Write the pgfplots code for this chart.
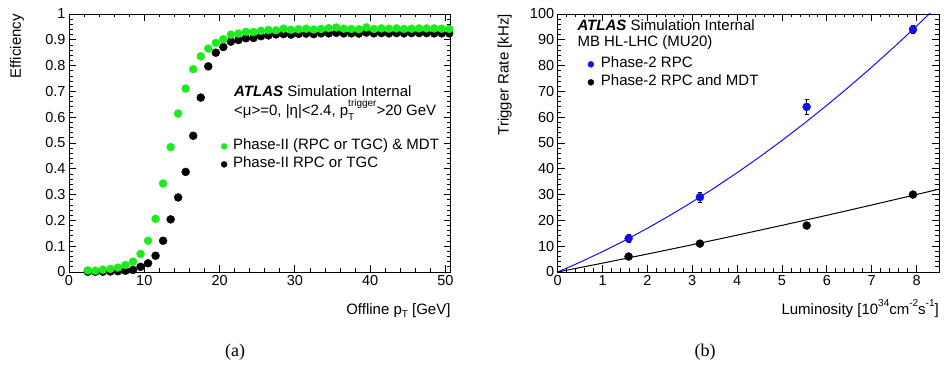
\documentclass[border=0pt]{standalone}
\usepackage{fontspec}
\setmainfont{Liberation Sans}
\newfontfamily\capfont{Liberation Serif}
\usepackage{pgfplots}
\pgfplotsset{compat=1.18}
\usepackage{pgfplotstable}

\definecolor{rootgreen}{RGB}{30,235,30}
\definecolor{rootblue}{RGB}{15,15,240}

\pgfplotstableread{
x y
2.5 0.006
3.5 0.005
4.5 0.009
5.5 0.012
6.5 0.017
7.5 0.027
8.5 0.040
9.5 0.070
10.5 0.121
11.5 0.206
12.5 0.343
13.5 0.484
14.5 0.614
15.5 0.711
16.5 0.786
17.5 0.836
18.5 0.866
19.5 0.888
20.5 0.902
21.5 0.920
22.5 0.924
23.5 0.931
24.5 0.930
25.5 0.935
26.5 0.938
27.5 0.937
28.5 0.943
29.5 0.939
30.5 0.941
31.5 0.943
32.5 0.940
33.5 0.942
34.5 0.945
35.5 0.948
36.5 0.943
37.5 0.942
38.5 0.941
39.5 0.948
40.5 0.942
41.5 0.944
42.5 0.943
43.5 0.944
44.5 0.942
45.5 0.943
46.5 0.944
47.5 0.944
48.5 0.944
49.5 0.943
50.5 0.942
}\greendata

\pgfplotstableread{
x y
2.5 0.001
3.5 0.001
4.5 0.001
5.5 0.002
6.5 0.003
7.5 0.005
8.5 0.008
9.5 0.020
10.5 0.034
11.5 0.063
12.5 0.121
13.5 0.204
14.5 0.289
15.5 0.388
16.5 0.528
17.5 0.676
18.5 0.797
19.5 0.850
20.5 0.872
21.5 0.893
22.5 0.899
23.5 0.906
24.5 0.907
25.5 0.914
26.5 0.917
27.5 0.921
28.5 0.922
29.5 0.920
30.5 0.923
31.5 0.924
32.5 0.922
33.5 0.925
34.5 0.925
35.5 0.927
36.5 0.925
37.5 0.925
38.5 0.924
39.5 0.928
40.5 0.925
41.5 0.926
42.5 0.925
43.5 0.926
44.5 0.925
45.5 0.926
46.5 0.926
47.5 0.926
48.5 0.925
49.5 0.925
50.5 0.925
}\blackdata

\pgfplotstableread{
x y ey
1.58 13.0 1.5
3.17 29.0 2.0
5.55 64.0 3.0
7.92 94.0 1.5
}\rpcdata

\pgfplotstableread{
x y ey
1.58 6.0 0.6
3.17 11.0 0.8
5.55 18.0 1.2
7.92 30.0 0.8
}\mdtdata

\pgfplotstableread{
x y
0 0
0.5 3.81
1 7.90
1.5 12.28
2 16.95
2.5 21.91
3 27.15
3.5 32.67
4 38.49
4.5 44.59
5 50.98
5.5 57.65
6 64.61
6.5 71.85
7 79.39
7.5 87.21
8 95.31
8.5 103.70
}\rpcfit

\pgfplotstableread{
x y
0 0
1 3.43
2 6.96
3 10.57
4 14.28
5 18.08
6 21.97
7 25.96
8 30.03
8.5 32.10
}\mdtfit

\pgfplotsset{rootstyle/.style={
  scale only axis, height=258bp,
  axis line style={line width=0.8bp, black},
  tick align=inside, tick pos=both,
  major tick length=7bp, minor tick length=3.5bp,
  every tick/.style={black, line width=0.8bp},
  minor tick num=4,
  tick label style={font=\fontsize{14.5bp}{17bp}\selectfont},
  label style={font=\fontsize{15bp}{18bp}\selectfont},
  /pgf/number format/assume math mode=true,
  legend style={draw=none, fill=none, font=\fontsize{15bp}{18bp}\selectfont,
    row sep=1bp, column sep=5bp, inner sep=0pt,
    nodes={inner sep=1bp, text height=11bp, text depth=4bp}},
  legend cell align=left,
}}

\begin{document}
\begin{tikzpicture}
\path[use as bounding box] (0,0) rectangle (944bp,365bp);

% ---------- (a) ----------
\begin{axis}[rootstyle,
  at={(69bp,93bp)}, anchor=south west, width=381.7bp,
  xmin=0, xmax=50.7, ymin=0, ymax=1,
  xtick={0,10,20,30,40,50},
  ytick={0,0.1,0.2,0.3,0.4,0.5,0.6,0.7,0.8,0.9,1},
  yticklabels={0,0.1,0.2,0.3,0.4,0.5,0.6,0.7,0.8,0.9,1},
  xlabel={Offline p\raisebox{-0.5ex}{\fontsize{10bp}{10bp}\selectfont T} [GeV]},
  ylabel={Efficiency},
  xlabel style={at={(axis description cs:1,-0.1628)}, anchor=base east, inner sep=0pt},
  ylabel style={at={(axis description cs:-0.1258,1)}, anchor=base east, inner sep=0pt},
  legend style={at={(0.398,0.452)}, anchor=west},
  reverse legend,
  legend image code/.code={\draw[#1, mark size=3bp] plot coordinates {(0bp,0bp)};},
]
\addplot[only marks, mark=*, mark size=4bp, color=black,
  error bars/.cd, x dir=both, x fixed=0.5, error mark=none,
  error bar style={black, line width=0.8bp}]
  table[x=x, y=y] {\blackdata};
\addlegendentry{Phase-II RPC or TGC}
\addplot[only marks, mark=*, mark size=4bp, color=rootgreen,
  error bars/.cd, x dir=both, x fixed=0.5, error mark=none,
  error bar style={black, line width=0.8bp}]
  table[x=x, y=y] {\greendata};
\addlegendentry{Phase-II (RPC or TGC) \& MDT}
\end{axis}

% ---------- (b) ----------
\begin{axis}[rootstyle,
  at={(557.7bp,93bp)}, anchor=south west, width=381.3bp,
  xmin=0, xmax=8.5, ymin=0, ymax=100,
  xtick={0,1,2,3,4,5,6,7,8},
  ytick={0,10,20,30,40,50,60,70,80,90,100},
  xlabel={Luminosity [10\raisebox{1.0ex}{\fontsize{10bp}{10bp}\selectfont 34}cm\raisebox{1.0ex}{\fontsize{10bp}{10bp}\selectfont -2}s\raisebox{1.0ex}{\fontsize{10bp}{10bp}\selectfont -1}]},
  ylabel={Trigger Rate [kHz]},
  xlabel style={at={(axis description cs:1,-0.1628)}, anchor=base east, inner sep=0pt},
  ylabel style={at={(axis description cs:-0.1285,1)}, anchor=base east, inner sep=0pt},
  legend style={at={(0.0787,0.770)}, anchor=west, column sep=6bp},
  legend image code/.code={\draw[#1, mark size=3bp] plot coordinates {(0bp,0bp)};},
]
\addplot[rootblue, line width=1bp, forget plot] table[x=x, y=y] {\rpcfit};
\addplot[black, line width=1bp, forget plot] table[x=x, y=y] {\mdtfit};
\addplot[only marks, mark=*, mark size=4bp, color=rootblue,
  error bars/.cd, y dir=both, y explicit,
  error bar style={black, line width=0.8bp},
  error mark options={rotate=90, mark size=2bp, black, line width=0.8bp}]
  table[x=x, y=y, y error=ey] {\rpcdata};
\addlegendentry{Phase-2 RPC}
\addplot[only marks, mark=*, mark size=4bp, color=black,
  error bars/.cd, y dir=both, y explicit,
  error bar style={black, line width=0.8bp},
  error mark options={rotate=90, mark size=2bp, black, line width=0.8bp}]
  table[x=x, y=y, y error=ey] {\mdtdata};
\addlegendentry{Phase-2 RPC and MDT}
\end{axis}

% annotations
\node[anchor=base west, inner sep=0pt, font=\fontsize{15bp}{18bp}\selectfont] at (234bp,268.3bp)
  {\textbf{\textit{ATLAS}} Simulation Internal};
\node[anchor=base west, inner sep=0pt, font=\fontsize{15bp}{18bp}\selectfont] at (234bp,249bp)
  {<μ>=0, |η|<2.4, p\rlap{\raisebox{-0.55ex}{\fontsize{10bp}{10bp}\selectfont T}}\raisebox{1.15ex}{\fontsize{10bp}{10bp}\selectfont trigger}>20 GeV};
\node[anchor=base west, inner sep=0pt, font=\fontsize{15bp}{18bp}\selectfont] at (577.3bp,334.3bp)
  {\textbf{\textit{ATLAS}} Simulation Internal};
\node[anchor=base west, inner sep=0pt, font=\fontsize{15bp}{18bp}\selectfont] at (577.3bp,318.5bp)
  {MB HL-LHC (MU20)};

\node[font=\capfont\fontsize{18bp}{21bp}\selectfont] at (235bp,13bp) {(a)};
\node[font=\capfont\fontsize{18bp}{21bp}\selectfont] at (705bp,13bp) {(b)};
\end{tikzpicture}
\end{document}
